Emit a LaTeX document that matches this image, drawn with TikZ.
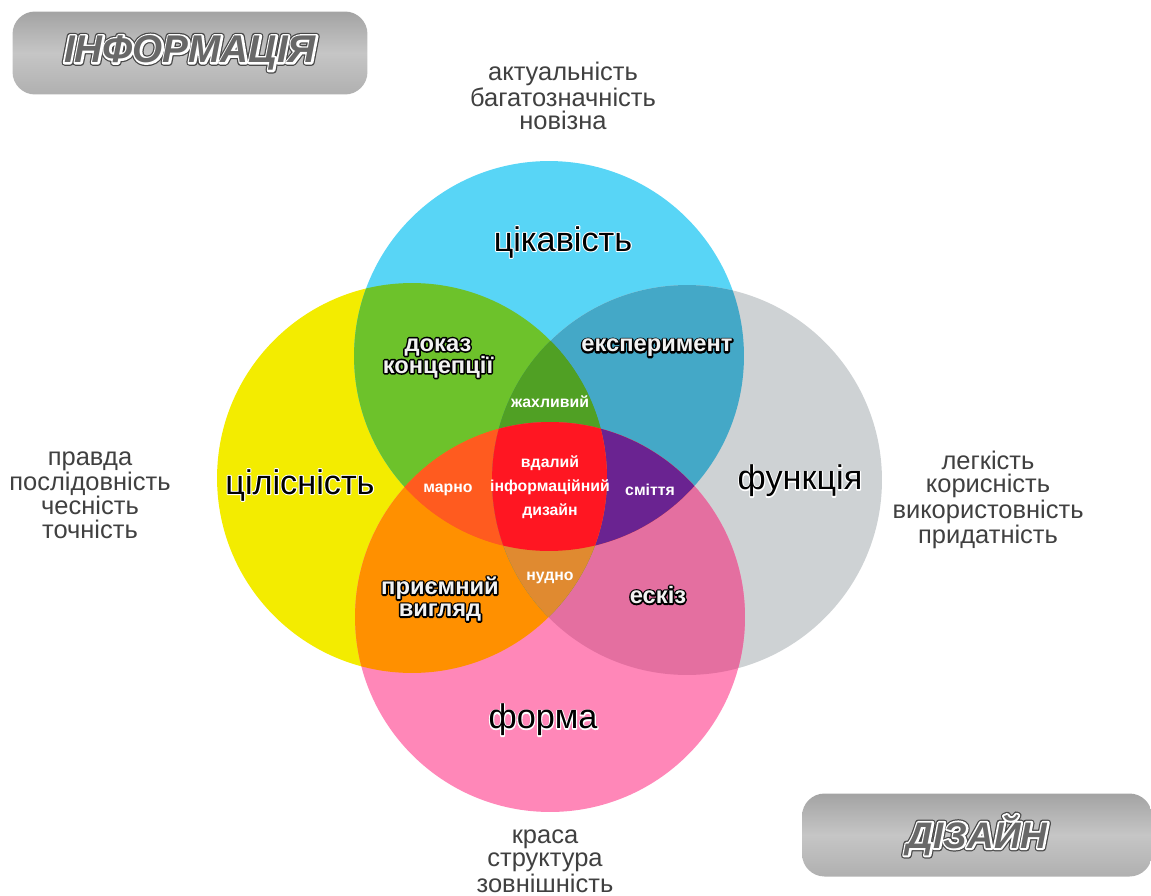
\documentclass[tikz,border=0pt]{standalone}
\usepackage{fontspec}
\setmainfont{Liberation Sans}
\usepackage{xcolor}
\usepackage{tikz}
\usetikzlibrary{positioning}
\definecolor{yel}{HTML}{F3EC00}
\definecolor{cya}{HTML}{58D5F6}
\definecolor{gry}{HTML}{CED2D4}
\definecolor{pnk}{HTML}{FF87B8}
\definecolor{grn}{HTML}{6DC22B}
\definecolor{stl}{HTML}{44A8C7}
\definecolor{org}{HTML}{FF9000}
\definecolor{ros}{HTML}{E46FA0}
\definecolor{dgrn}{HTML}{50A024}
\definecolor{rorg}{HTML}{FF5B1F}
\definecolor{prp}{HTML}{6A2391}
\definecolor{dorg}{HTML}{E08A30}
\definecolor{rd}{HTML}{FF1622}
\definecolor{txt}{HTML}{404040}
\definecolor{ttl}{HTML}{686868}
\definecolor{offw}{HTML}{F2F2F2}
% text on top of a wider copy of itself in another colour: fill, halo, width, text
\newcommand{\halo}[4]{\rlap{\color{#2}\special{pdf:literal direct 1 j 2 Tr #3 w}#4\special{pdf:literal direct 0 Tr 0 j 1 w}}{\color{#1}#4}}
\newcommand{\hollow}[1]{\halo{offw}{black}{1.8}{#1}}
\newcommand{\titletext}[1]{\rlap{\color{ttl!70!black}\special{pdf:literal direct 1 j 2 Tr 3.6 w}#1\special{pdf:literal direct 0 Tr 0 j 1 w}}\halo{ttl}{white}{2.2}{#1}}

\begin{document}
\begin{tikzpicture}[x=0.02cm,y=-0.02cm,
  venn/.style={radius=3.9cm},
  titlebox/.style={rounded corners=0.45cm,minimum width=7.1cm,minimum height=1.66cm,
    top color=gray!72!white,bottom color=gray!62!white,middle color=gray!45!white,
    font=\bfseries\itshape\fontsize{22}{24}\selectfont},
  desc/.style={align=center,text=txt,font=\fontsize{14.5}{13.4}\selectfont},
  mainlabel/.style={font=\fontsize{19.5}{22}\selectfont},
  sublabel/.style={align=center,font=\bfseries\fontsize{13.5}{12.5}\selectfont},
  small/.style={align=center,text=white,font=\bfseries\fontsize{9}{13.5}\selectfont}]
  \useasboundingbox (0,0) rectangle (1151,895);
  % circle centres
  \coordinate (cY) at (412,478);
  \coordinate (cB) at (549,356);
  \coordinate (cG) at (687,480);
  \coordinate (cP) at (550,617);
  % single circles
  \fill[yel] (cY) circle[venn];
  \fill[cya] (cB) circle[venn];
  \fill[gry] (cG) circle[venn];
  \fill[pnk] (cP) circle[venn];
  % pairs
  \foreach \a/\b/\c in {cY/cB/grn,cB/cG/stl,cY/cP/org,cG/cP/ros,cY/cG/dgrn,cB/cP/rorg}{
    \begin{scope}
      \clip (\a) circle[venn];
      \fill[\c] (\b) circle[venn];
    \end{scope}}
  % triples
  \foreach \a/\b/\d/\c in {cY/cB/cG/dgrn,cY/cB/cP/rorg,cB/cG/cP/prp,cY/cG/cP/dorg}{
    \begin{scope}
      \clip (\a) circle[venn];
      \clip (\b) circle[venn];
      \fill[\c] (\d) circle[venn];
    \end{scope}}
  % all four
  \begin{scope}
    \clip (cY) circle[venn];
    \clip (cB) circle[venn];
    \clip (cG) circle[venn];
    \fill[rd] (cP) circle[venn];
  \end{scope}

  % title boxes
  \node[titlebox] (info) at (190,53) {\titletext{ІНФОРМАЦІЯ}};
  \node[titlebox,minimum width=7cm,font=\bfseries\itshape\fontsize{21}{24}\selectfont] (dsgn) at (977,835) {\titletext{ДІЗАЙН}};

  % main labels
  \node[mainlabel] (interest) at (563,242) {\halo{black}{white}{1.2}{цікавість}};
  \node[mainlabel] (whole) at (300,485) {\halo{black}{white}{1.2}{цілісність}};
  \node[mainlabel] (func) at (800,481) {\halo{black}{white}{1.2}{функція}};
  \node[mainlabel] (form) at (543,720) {\halo{black}{white}{1.2}{форма}};

  % pair labels
  \node[sublabel] (proof) at (438,358) {\hollow{доказ}\\\hollow{концепції}};
  \node[sublabel] (exper) at (657,348) {\hollow{експеримент}};
  \node[sublabel] (nice) at (440,599) {\hollow{приємний}\\\hollow{вигляд}};
  \node[sublabel] (sketch) at (658,595) {\hollow{ескіз}};

  % inner labels
  \node[small] (awful) at (550,402) {жахливий};
  \node[small] (good) at (550,487) {вдалий\\інформаційний\\дизайн};
  \node[small] (vain) at (448,490) {марно};
  \node[small] (trash) at (650,490) {сміття};
  \node[small] (dull) at (550,578) {нудно};

  % outside descriptions
  \node[desc] (dtop) at (563,96) {актуальність\\багатозначність\\новізна};
  \node[desc] (dleft) at (90,495) {правда\\послідовність\\чесність\\точність};
  \node[desc] (dright) at (988,500) {легкість\\корисність\\використовність\\придатність};
  \node[desc] (dbot) at (545,861) {краса\\структура\\зовнішність};
\end{tikzpicture}
\end{document}
